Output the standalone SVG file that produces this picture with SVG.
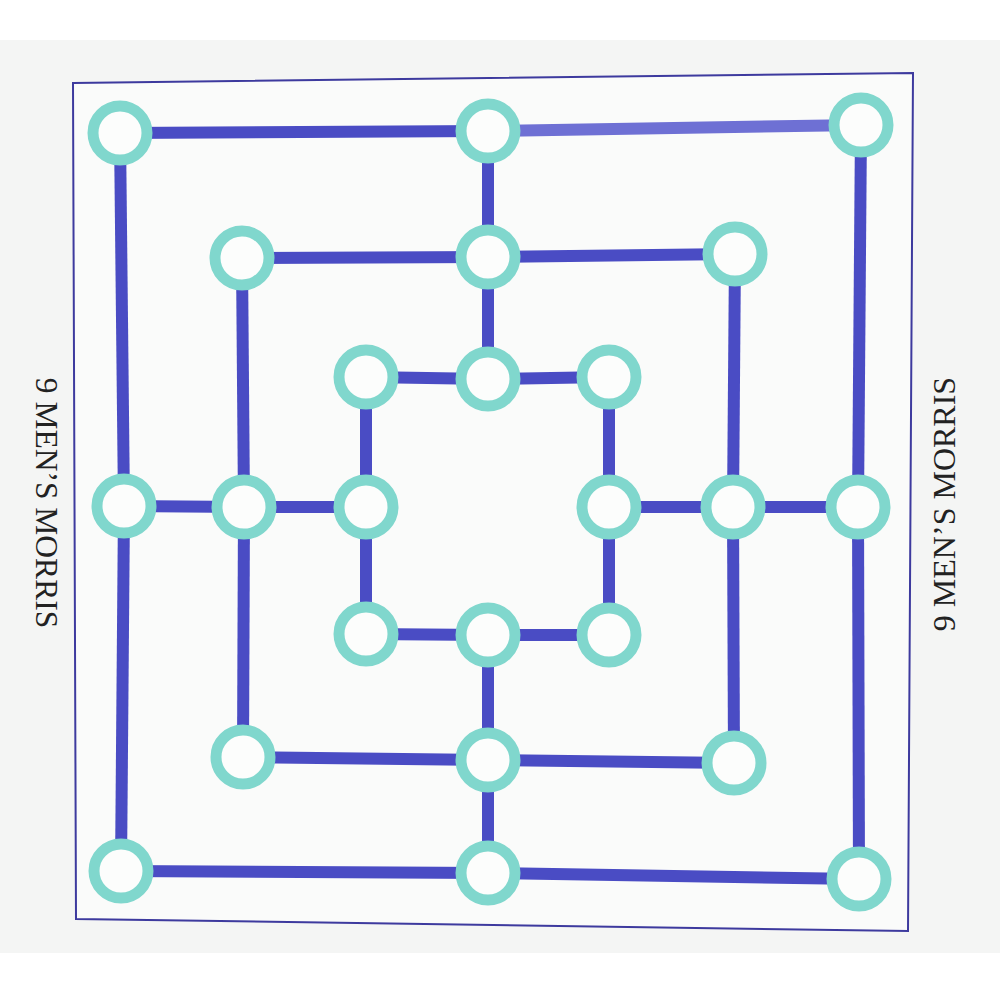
<svg xmlns="http://www.w3.org/2000/svg" width="1000" height="1000" viewBox="0 0 1000 1000">
<style>
.ln{stroke:#4a4cc4;stroke-width:12;stroke-linecap:butt;fill:none}
.nd{fill:#fcfdfc;stroke:#80d7cd;stroke-width:11}
.lbl{font-family:"Liberation Serif","Times New Roman",serif;fill:#222;text-anchor:middle}
</style>
<rect x="0" y="0" width="1000" height="1000" fill="#ffffff"/>
<rect x="0" y="40" width="1000" height="913" fill="#f4f5f4"/>
<polygon points="73,83 913,73 908,931 76,919" fill="#fafbfa" stroke="#3d3a9e" stroke-width="2"/>
<g id="connectors">
<line class="ln" x1="120" y1="133" x2="488" y2="131"/>
<line class="ln" x1="488" y1="131" x2="861" y2="125" style="stroke:#6e70d4"/>
<line class="ln" x1="861" y1="125" x2="858" y2="507"/>
<line class="ln" x1="858" y1="507" x2="859" y2="879"/>
<line class="ln" x1="859" y1="879" x2="488" y2="873"/>
<line class="ln" x1="488" y1="873" x2="121" y2="871"/>
<line class="ln" x1="121" y1="871" x2="124" y2="506"/>
<line class="ln" x1="124" y1="506" x2="120" y2="133"/>
<line class="ln" x1="242" y1="258" x2="488" y2="257"/>
<line class="ln" x1="488" y1="257" x2="735" y2="254"/>
<line class="ln" x1="735" y1="254" x2="733" y2="507"/>
<line class="ln" x1="733" y1="507" x2="734" y2="763"/>
<line class="ln" x1="734" y1="763" x2="488" y2="760"/>
<line class="ln" x1="488" y1="760" x2="243" y2="757"/>
<line class="ln" x1="243" y1="757" x2="244" y2="507"/>
<line class="ln" x1="244" y1="507" x2="242" y2="258"/>
<line class="ln" x1="366" y1="377" x2="488" y2="379"/>
<line class="ln" x1="488" y1="379" x2="609" y2="377"/>
<line class="ln" x1="609" y1="377" x2="609" y2="507"/>
<line class="ln" x1="609" y1="507" x2="609" y2="635"/>
<line class="ln" x1="609" y1="635" x2="488" y2="635"/>
<line class="ln" x1="488" y1="635" x2="366" y2="634"/>
<line class="ln" x1="366" y1="634" x2="366" y2="507"/>
<line class="ln" x1="366" y1="507" x2="366" y2="377"/>
<line class="ln" x1="488" y1="131" x2="488" y2="257"/>
<line class="ln" x1="488" y1="257" x2="488" y2="379"/>
<line class="ln" x1="124" y1="506" x2="244" y2="507"/>
<line class="ln" x1="244" y1="507" x2="366" y2="507"/>
<line class="ln" x1="609" y1="507" x2="733" y2="507"/>
<line class="ln" x1="733" y1="507" x2="858" y2="507"/>
<line class="ln" x1="488" y1="635" x2="488" y2="760"/>
<line class="ln" x1="488" y1="760" x2="488" y2="873"/>
</g>
<g id="outer-tl"><circle class="nd" cx="120" cy="133" r="27"/></g>
<g id="outer-tm"><circle class="nd" cx="488" cy="131" r="27"/></g>
<g id="outer-tr"><circle class="nd" cx="861" cy="125" r="27"/></g>
<g id="outer-ml"><circle class="nd" cx="124" cy="506" r="27"/></g>
<g id="outer-mr"><circle class="nd" cx="858" cy="507" r="27"/></g>
<g id="outer-bl"><circle class="nd" cx="121" cy="871" r="27"/></g>
<g id="outer-bm"><circle class="nd" cx="488" cy="873" r="27"/></g>
<g id="outer-br"><circle class="nd" cx="859" cy="879" r="27"/></g>
<g id="middle-tl"><circle class="nd" cx="242" cy="258" r="27"/></g>
<g id="middle-tm"><circle class="nd" cx="488" cy="257" r="27"/></g>
<g id="middle-tr"><circle class="nd" cx="735" cy="254" r="27"/></g>
<g id="middle-ml"><circle class="nd" cx="244" cy="507" r="27"/></g>
<g id="middle-mr"><circle class="nd" cx="733" cy="507" r="27"/></g>
<g id="middle-bl"><circle class="nd" cx="243" cy="757" r="27"/></g>
<g id="middle-bm"><circle class="nd" cx="488" cy="760" r="27"/></g>
<g id="middle-br"><circle class="nd" cx="734" cy="763" r="27"/></g>
<g id="inner-tl"><circle class="nd" cx="366" cy="377" r="27"/></g>
<g id="inner-tm"><circle class="nd" cx="488" cy="379" r="27"/></g>
<g id="inner-tr"><circle class="nd" cx="609" cy="377" r="27"/></g>
<g id="inner-ml"><circle class="nd" cx="366" cy="507" r="27"/></g>
<g id="inner-mr"><circle class="nd" cx="609" cy="507" r="27"/></g>
<g id="inner-bl"><circle class="nd" cx="366" cy="634" r="27"/></g>
<g id="inner-bm"><circle class="nd" cx="488" cy="635" r="27"/></g>
<g id="inner-br"><circle class="nd" cx="609" cy="635" r="27"/></g>
<g id="label-left"><text class="lbl" font-size="31.5" transform="translate(36,503) rotate(90)">9 MEN’S MORRIS</text></g>
<g id="label-right"><text class="lbl" font-size="32" transform="translate(955,504) rotate(-90)">9 MEN’S MORRIS</text></g>
</svg>
